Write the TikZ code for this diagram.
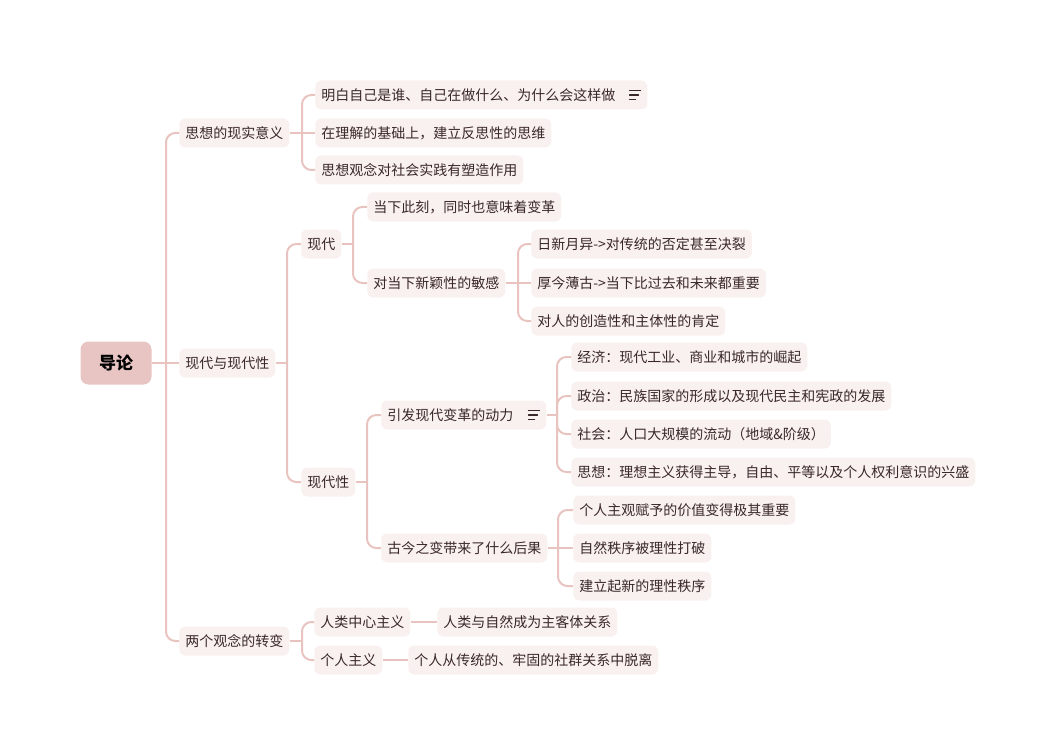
\documentclass[tikz,border=0pt]{standalone}
\usepackage{fontspec}
\setmainfont{Noto Sans CJK SC}
\definecolor{lnc}{HTML}{E8C3BF}
\definecolor{nfill}{HTML}{F9F1F0}
\definecolor{rfill}{HTML}{E8C4C3}
\definecolor{ntext}{HTML}{3A2828}
\tikzset{
  topic/.style={fill=nfill, text=ntext, rounded corners=4.5pt, inner xsep=4.5pt, inner ysep=0pt,
    minimum height=21.75pt, anchor=west, font=\fontsize{10.5pt}{12pt}\selectfont},
  rootbox/.style={fill=rfill, text=black, rounded corners=6pt, minimum width=53.25pt,
    minimum height=32.25pt, font=\fontsize{12.75pt}{15pt}\selectfont\bfseries},
  conn/.style={draw=lnc, line width=1.5pt},
  bendconn/.style={conn, rounded corners=7pt},
  notesicon/.style={draw=ntext, line width=0.9pt, line cap=round}
}
\newcommand\stub[2]{\draw[conn] (#1.east) -- (#1.east -| #2);}
\newcommand\lk[3]{\draw[bendconn] (#1.east -| #3) |- (#2.west);}
\newcommand\straight[2]{\draw[conn] (#1.east) -- (#2.west);}
\newcommand\noteicon[1]{%
  \draw[notesicon] ([shift={(-18,-4.5)}]#1.east) -- ++(11,0);
  \draw[notesicon] ([shift={(-18,0)}]#1.east) -- ++(9,0);
  \draw[notesicon] ([shift={(-18,4.5)}]#1.east) -- ++(6,0);}
\begin{document}
\begin{tikzpicture}[x=0.75pt,y=-0.75pt]
\useasboundingbox (0,0) rectangle (1060,756);
% spine coordinates
\coordinate (s0) at (166,0);
\coordinate (sa) at (302,0);
\coordinate (sb) at (287,0);
\coordinate (sb1) at (353,0);
\coordinate (sb12) at (518,0);
\coordinate (sb2) at (367,0);
\coordinate (sb21) at (557,0);
\coordinate (sb22) at (558,0);
\coordinate (sc) at (302,0);
% nodes
\node[rootbox] (root) at (116,363) {导论};
\node[topic] (a) at (179,133) {思想的现实意义};
\node[topic] (b) at (179,363) {现代与现代性};
\node[topic] (c) at (179,641) {两个观念的转变};
\node[topic] (a1) at (315,95) {明白自己是谁、自己在做什么、为什么会这样做\kern19.5pt};
\node[topic] (a2) at (315,133) {在理解的基础上，建立反思性的思维};
\node[topic] (a3) at (315,170) {思想观念对社会实践有塑造作用};
\node[topic] (b1) at (301,244) {现代};
\node[topic] (b2) at (301,482) {现代性};
\node[topic] (b11) at (367,207) {当下此刻，同时也意味着变革};
\node[topic] (b12) at (367,283) {对当下新颖性的敏感};
\node[topic] (b121) at (531,244) {日新月异->对传统的否定甚至决裂};
\node[topic] (b122) at (531,283) {厚今薄古->当下比过去和未来都重要};
\node[topic] (b123) at (531,321) {对人的创造性和主体性的肯定};
\node[topic] (b21) at (381,415) {引发现代变革的动力\kern20.25pt};
\node[topic] (b22) at (381,548) {古今之变带来了什么后果};
\node[topic] (b211) at (571,357) {经济：现代工业、商业和城市的崛起};
\node[topic] (b212) at (571,396) {政治：民族国家的形成以及现代民主和宪政的发展};
\node[topic] (b213) at (571,434) {社会：人口大规模的流动（地域\&阶级）};
\node[topic] (b214) at (571,472) {思想：理想主义获得主导，自由、平等以及个人权利意识的兴盛};
\node[topic] (b221) at (573,510) {个人主观赋予的价值变得极其重要};
\node[topic] (b222) at (573,548) {自然秩序被理性打破};
\node[topic] (b223) at (573,586) {建立起新的理性秩序};
\node[topic] (c1) at (314,622) {人类中心主义};
\node[topic] (c2) at (314,660) {个人主义};
\node[topic] (c11) at (437,622) {人类与自然成为主客体关系};
\node[topic] (c21) at (408,660) {个人从传统的、牢固的社群关系中脱离};
\noteicon{a1}
\noteicon{b21}
% connectors
\stub{root}{s0} \lk{root}{a}{s0} \straight{root}{b} \lk{root}{c}{s0}
\stub{a}{sa} \lk{a}{a1}{sa} \straight{a}{a2} \lk{a}{a3}{sa}
\stub{b}{sb} \lk{b}{b1}{sb} \lk{b}{b2}{sb}
\stub{b1}{sb1} \lk{b1}{b11}{sb1} \lk{b1}{b12}{sb1}
\stub{b12}{sb12} \lk{b12}{b121}{sb12} \straight{b12}{b122} \lk{b12}{b123}{sb12}
\stub{b2}{sb2} \lk{b2}{b21}{sb2} \lk{b2}{b22}{sb2}
\stub{b21}{sb21} \lk{b21}{b211}{sb21} \lk{b21}{b212}{sb21} \lk{b21}{b213}{sb21} \lk{b21}{b214}{sb21}
\stub{b22}{sb22} \lk{b22}{b221}{sb22} \straight{b22}{b222} \lk{b22}{b223}{sb22}
\stub{c}{sc} \lk{c}{c1}{sc} \lk{c}{c2}{sc}
\straight{c1}{c11}
\straight{c2}{c21}
\end{tikzpicture}
\end{document}
